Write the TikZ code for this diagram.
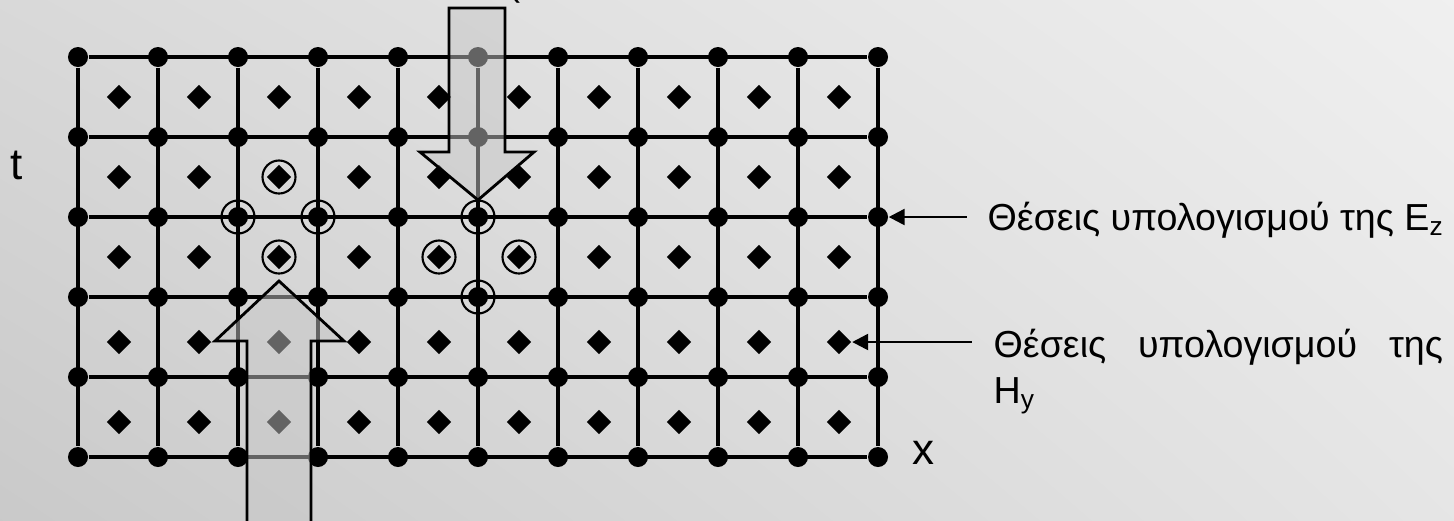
\documentclass[tikz,border=0pt]{standalone}
\usepackage{fontspec}
\setmainfont{Liberation Sans}
\usetikzlibrary{arrows.meta,positioning,shapes.geometric,shadings}

\tikzset{
  edot/.style={circle,fill=black,inner sep=0pt,minimum size=0.2cm},
  hdot/.style={diamond,fill=black,inner sep=0pt,minimum size=0.25cm},
  ring/.style={circle,draw=black,line width=0.6pt,inner sep=0pt,minimum size=0.33cm},
  gridline/.style={line width=0.9pt},
  bigarrow/.style={fill=black!22,fill opacity=0.5,draw=black,line width=0.8pt},
  ptr/.style={-{Triangle[length=0.16cm,width=0.16cm]},line width=0.7pt},
  lbl/.style={inner sep=0pt,font=\fontsize{10.7}{13.1}\selectfont},
  axlbl/.style={inner sep=0pt,font=\fontsize{12.5}{15}\selectfont},
}

\begin{document}
\begin{tikzpicture}[x=0.01cm,y=-0.01cm]
  \useasboundingbox (0,0) rectangle (1454,520);
  \clip (0,0) rectangle (1454,520);
  \shade[upper left=black!15,upper right=black!6,lower left=black!21,lower right=black!10]
    (0,0) rectangle (1454,520);
  % E_z points and H_y points
  \foreach \i in {0,...,10}
    \foreach \j in {0,...,5}
      \node[edot] (E\i-\j) at ({78+80*\i},{57+80*\j}) {};
  \foreach \i in {0,...,9}
    \foreach \j/\y in {0/97,1/177,2/257,3/342,4/422}
      \node[hdot] (H\i-\j) at ({119+80*\i},\y) {};
  % grid
  \foreach \j in {0,...,5}
    \draw[gridline] (E0-\j) -- (E10-\j);
  \foreach \i in {0,...,10}
    \draw[gridline] (E\i-0) -- (E\i-5);
  % marked points
  \foreach \p in {E2-2,E3-2,E5-2,E5-3,H2-1,H2-2,H4-2,H5-2}
    \node[ring] (r-\p) at (\p) {};
  % big arrows
  \filldraw[bigarrow] (449,8) -- (505,8) -- (505,152) -- (534,152) -- (478,200)
    -- (420,152) -- (449,152) -- cycle;
  \filldraw[bigarrow] (247,540) -- (247,341) -- (215,341) -- (279,281) -- (344,341)
    -- (311,341) -- (311,540) -- cycle;
  % labels
  \node[lbl,anchor=base] (lp) at (514,-5) {(};
  \node[axlbl] (t) at (17,165) {t};
  \node[axlbl] (x) at (923,453) {x};
  \node[lbl,anchor=base west] (lblE) at (987,230) {Θέσεις υπολογισμού της E\textsubscript{z}};
  \node[lbl,anchor=base west,text width=4.49cm] (lblH) at (993,357)
    {Θέσεις\hfill υπολογισμού\hfill της\\H\textsubscript{y}};
  \draw[ptr,shorten <=0.2cm] (lblE.west |- E10-2) -- (E10-2);
  \draw[ptr,shorten <=0.21cm] (lblH.west |- H9-3) -- (H9-3);
\end{tikzpicture}
\end{document}
